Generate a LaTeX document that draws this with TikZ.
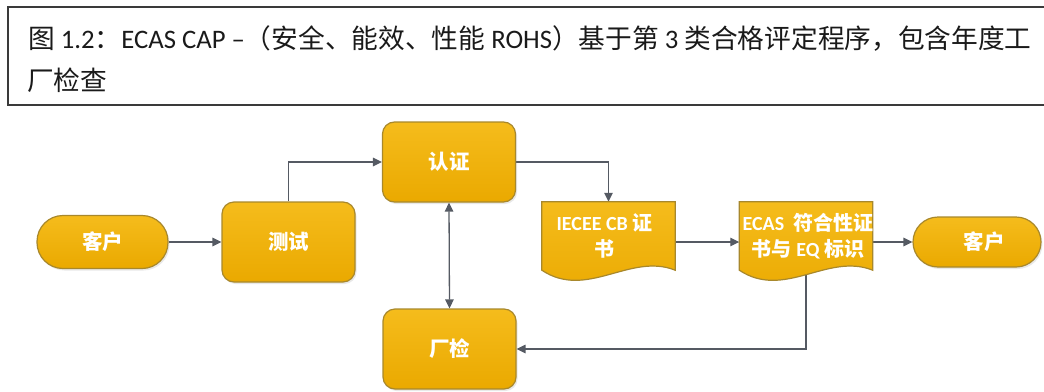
\documentclass[tikz,border=0pt]{standalone}
\usepackage{fontspec}
\setmainfont{Carlito}
\newfontfamily\cjk{Noto Sans CJK SC}
\newcommand\zh[1]{{\cjk #1}}
\usetikzlibrary{arrows.meta,shadows,calc,backgrounds}
\definecolor{boxtop}{HTML}{F5BC1C}
\definecolor{boxbot}{HTML}{EAA900}
\definecolor{boxline}{HTML}{A8882C}
\definecolor{linec}{HTML}{555A63}
\definecolor{capline}{HTML}{3A3A3A}
\definecolor{captext}{HTML}{1A1A1A}
\tikzset{
  boxbase/.style={draw=boxline, line width=1.2pt, top color=boxtop, bottom color=boxbot,
    text=white, font=\bfseries\cjk\fontsize{20.5}{26}\selectfont, inner sep=0pt,
    drop shadow={opacity=0.18, shadow xshift=1.5pt, shadow yshift=-2pt}},
  procbox/.style={boxbase, rectangle, rounded corners=12pt, minimum width=133pt, minimum height=80pt},
  stadium/.style={boxbase, rectangle, rounded corners=26pt, minimum width=131pt, minimum height=53pt},
  docnode/.style={rectangle, minimum width=133pt, minimum height=80pt, inner sep=0pt},
  docfill/.style={draw=boxline, line width=1.2pt, top color=boxtop, bottom color=boxbot},
  doctext/.style={text=white, font=\bfseries\fontsize{20}{26}\selectfont, align=center, inner sep=0pt},
  conn/.style={draw=linec, line width=1.3pt, -{Triangle[length=9pt,width=8.5pt]}},
  captxt/.style={anchor=base west, inner sep=0pt, text=captext, font=\fontsize{26.7}{26.7}\selectfont}
}
\newcommand\docoutline[1]{%
  \path[docfill] (#1.north west) -- (#1.north east) -- ($(#1.south east)+(0,-12)$)
    .. controls ($(#1.south east)+(-45,-30)$) and ($(#1.south west)+(45,18)$) .. ($(#1.south west)+(0,-12)$) -- cycle;}
\begin{document}
\begin{tikzpicture}[x=1pt,y=-1pt]
\useasboundingbox (0,0) rectangle (1044,391);
% caption
\draw[draw=capline, line width=1.3pt] (8,7) rectangle (1046,105);
\node[captxt] (cap1) at (28,48) {\zh{图} 1.2\zh{：}ECAS CAP –\zh{（安全、能效、性能} ROHS\zh{）基于第} 3 \zh{类合格评定程序，包含年度工}};
\node[captxt] (cap2) at (27,90) {\zh{厂检查}};
% nodes
\node[stadium] (c1) at (102.5,242) {客户};
\node[procbox] (test) at (288.5,242) {测试};
\node[procbox] (cert) at (449,162) {认证};
\node[procbox] (fac) at (449.5,349) {厂检};
\node[docnode] (cb) at (608.5,242) {};
\docoutline{cb}
\node[doctext] (cbt) at ($(cb.center)+(-4,-6)$) {IECEE CB \zh{证}\\\zh{书}};
\node[docnode] (ecas) at (806,242) {};
\docoutline{ecas}
\node[doctext] (ecast) at ($(ecas.center)+(2,-6)$) {ECAS \ \zh{符合性证}\\\zh{书与} EQ \zh{标识}};
\node[stadium, minimum width=128pt, minimum height=50pt, rounded corners=25pt] (c2) at (977,242) {\hspace*{14pt}客户};
% connectors
\begin{scope}[on background layer]
\draw[conn] (c1.east) -- (test.west);
\draw[conn] (test.north) |- (cert.west);
\draw[conn] (cert.east) -| (cb.north);
\draw[conn, {Triangle[length=9pt,width=8.5pt]}-{Triangle[length=9pt,width=8.5pt]}] (cert.south) -- (fac.north);
\draw[conn] (cb.east) -- (ecas.west);
\draw[conn] (ecas.east) -- (c2.west);
\draw[conn] (ecas.center) |- (fac.east);
\end{scope}
\end{tikzpicture}
\end{document}
